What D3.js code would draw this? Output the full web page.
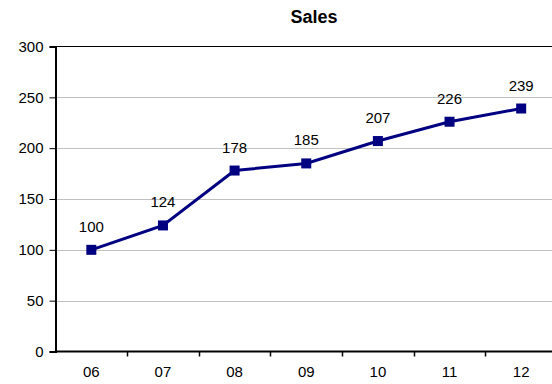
<!DOCTYPE html>
<html><head><meta charset="utf-8">
<script src="https://cdn.jsdelivr.net/npm/d3@7"></script>
<style>body{margin:0;background:#fff}svg{display:block}text{font-family:Arial,"Liberation Sans",sans-serif}</style>
</head><body><svg id="c" width="552" height="384"></svg>
<script>
const categories = ["06","07","08","09","10","11","12"];
const sales = [100,124,178,185,207,226,239];
const yTicks = [0,50,100,150,200,250,300];
const title = "Sales";

const svg = d3.select("#c");
const L = 55.5, R = 557, T = 46.5, B = 351.5;
const x = d3.scaleBand().domain(categories).range([L, R]);
const y = d3.scaleLinear().domain([0,300]).range([B, T]);

// gridlines
svg.append("g").selectAll("line").data(yTicks.filter(d=>d>0 && d<300)).join("line")
  .attr("x1", L).attr("x2", 552).attr("y1", d=>Math.round(y(d))+0.5).attr("y2", d=>Math.round(y(d))+0.5)
  .attr("stroke", "#c0c0c0").attr("stroke-width", 1);
// top border
svg.append("line").attr("x1", L).attr("x2", 552).attr("y1", T).attr("y2", T).attr("stroke", "#000");

// y axis
const ya = svg.append("g").attr("transform", `translate(${L},0)`)
  .call(d3.axisLeft(y).tickValues(yTicks).tickSize(6).tickPadding(6).tickFormat(d3.format("d")));
ya.select(".domain").attr("stroke", "#000").attr("stroke-width", 2);
ya.selectAll("text").attr("font-size", 15).attr("fill", "#000").attr("font-family", "Arial");

// x axis
const xa = svg.append("g").attr("transform", `translate(0,${B})`)
  .call(d3.axisBottom(x).tickSize(0).tickPadding(15));
xa.select(".domain").attr("stroke", "#000").attr("stroke-width", 2).attr("d", `M${L},0H552`);
xa.selectAll("text").attr("font-size", 15).attr("fill", "#000").attr("font-family", "Arial");
// category boundary ticks
svg.append("g").selectAll("line").data(categories.slice(1)).join("line")
  .attr("x1", d=>Math.round(x(d))+0.5).attr("x2", d=>Math.round(x(d))+0.5)
  .attr("y1", B).attr("y2", B+5).attr("stroke", "#000").attr("stroke-width", 1.5);

// line
const cx = d => x(d) + x.bandwidth()/2;
svg.append("path").datum(sales.map((v,i)=>[categories[i], v]))
  .attr("fill", "none").attr("stroke", "#000080").attr("stroke-width", 3)
  .attr("d", d3.line().x(d=>cx(d[0])).y(d=>y(d[1])));
svg.append("g").selectAll("rect").data(sales).join("rect")
  .attr("x", (d,i)=>cx(categories[i])-5).attr("y", d=>y(d)-5)
  .attr("width", 10).attr("height", 10).attr("fill", "#000080");
svg.append("g").selectAll("text").data(sales).join("text")
  .attr("x", (d,i)=>cx(categories[i])).attr("y", d=>y(d)-18)
  .attr("text-anchor", "middle").attr("font-size", 15).attr("fill", "#000").text(d=>d);

svg.append("text").attr("x", 314).attr("y", 23).attr("text-anchor", "middle")
  .attr("font-size", 18).attr("font-weight", "bold").text(title);
</script></body></html>
